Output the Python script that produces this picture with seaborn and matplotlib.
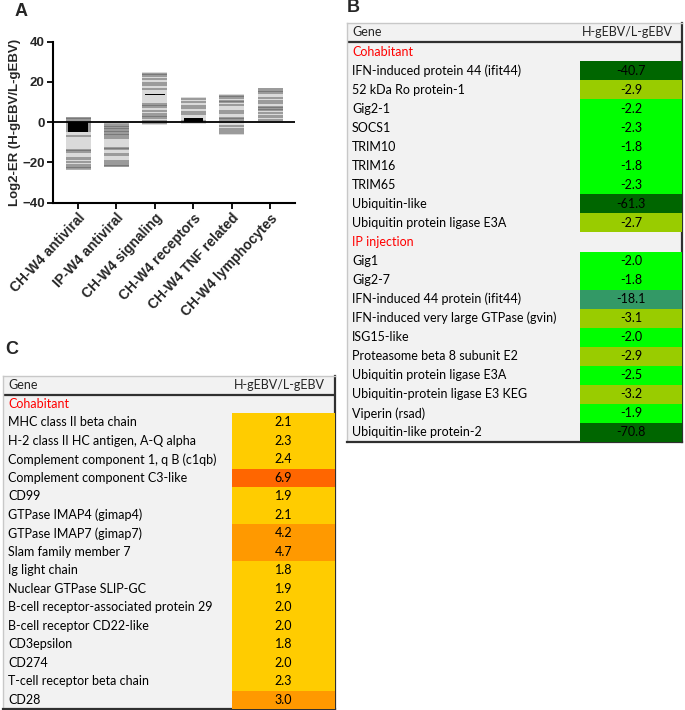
import numpy as np
import seaborn as sns
import matplotlib.pyplot as plt
from matplotlib.colors import ListedColormap, BoundaryNorm

# ---- panel A data (log2 expression ratio per gene, by group) ----
categories = ["CH-W4 antiviral", "IP-W4 antiviral", "CH-W4 signaling",
              "CH-W4 receptors", "CH-W4 TNF related", "CH-W4 lymphocytes"]
gene_log2 = [
    [2.2, 1.4, 0.6, -0.5, -1.5, -2.5, -3.5, -4.5, -7.0, -13.8, -14.6, -18.0, -19.6, -21.2, -22.4, -23.0],
    [-1.0, -1.8, -2.6, -3.4, -4.2, -5.0, -5.8, -6.6, -7.7, -12.8, -13.3, -16.0, -19.3, -20.2, -21.3, -21.9],
    [24.0, 23.2, 21.5, 19.6, 18.6, 16.5, 8.8, 7.8, 5.5, 4.2, 3.2, 2.3, 0.6, -0.4],
    [11.5, 10.0, 8.0, 7.0, 5.0, 4.2, 0.5],
    [13.0, 12.3, 10.7, 10.0, 8.5, 5.6, 4.6, 2.2, 1.3, -1.7, -3.3, -4.2, -5.5],
    [16.4, 15.5, 14.8, 12.1, 10.6, 9.6, 7.6, 6.8, 6.0, 4.4, 2.8, 1.0],
]
range_lo = [-23.5, -22.3, -1.2, -1.0, -6.5, -0.6]
range_hi = [2.8, -0.7, 24.7, 12.6, 13.8, 17.2]
summary_lo = [-5.0, None, 13.4, 0.0, None, None]
summary_hi = [0.0, None, 14.2, 2.0, None, None]

# ---- panel B data ----
b_cohab_genes = ["IFN-induced protein 44 (ifit44)", "52 kDa Ro protein-1", "Gig2-1", "SOCS1",
                 "TRIM10", "TRIM16", "TRIM65", "Ubiquitin-like", "Ubiquitin protein ligase E3A"]
b_cohab_vals = [-40.7, -2.9, -2.2, -2.3, -1.8, -1.8, -2.3, -61.3, -2.7]
b_ip_genes = ["Gig1", "Gig2-7", "IFN-induced 44 protein (ifit44)", "IFN-induced very large GTPase (gvin)",
              "ISG15-like", "Proteasome beta 8 subunit E2", "Ubiquitin protein ligase E3A",
              "Ubiquitin-protein ligase E3 KEG", "Viperin (rsad)", "Ubiquitin-like protein-2"]
b_ip_vals = [-2.0, -1.8, -18.1, -3.1, -2.0, -2.9, -2.5, -3.2, -1.9, -70.8]

# ---- panel C data ----
c_cohab_genes = ["MHC class II beta chain", "H-2 class II HC antigen, A-Q alpha",
                 "Complement component 1, q B (c1qb)", "Complement component C3-like", "CD99",
                 "GTPase IMAP4 (gimap4)", "GTPase IMAP7 (gimap7)", "Slam family member 7",
                 "Ig light chain", "Nuclear GTPase SLIP-GC", "B-cell receptor-associated protein 29",
                 "B-cell receptor CD22-like", "CD3epsilon", "CD274", "T-cell receptor beta chain", "CD28"]
c_cohab_vals = [2.1, 2.3, 2.4, 6.9, 1.9, 2.1, 4.2, 4.7, 1.8, 1.9, 2.0, 2.0, 1.8, 2.0, 2.3, 3.0]

sns.set_style("ticks")
plt.rcParams["font.family"] = ["Liberation Sans", "DejaVu Sans"]

W, H = 685, 710
fig = plt.figure(figsize=(W / 100, H / 100), dpi=100)


def box(l, t, r, b):
    return [l / W, 1 - b / H, (r - l) / W, (b - t) / H]


# ================= panel A =================
ax = fig.add_axes(box(53, 41.7, 295, 202.7))
for i, vals in enumerate(gene_log2):
    ax.bar(i, range_hi[i] - range_lo[i], bottom=range_lo[i], width=0.65, color="#dadada", lw=0)
    v = np.array(vals)
    ax.bar(np.full(len(v), i), np.full(len(v), 1.1), bottom=v - 0.55, width=0.65,
           color="#505050", alpha=0.45, lw=0)
    if summary_lo[i] is not None:
        ax.bar(i, summary_hi[i] - summary_lo[i], bottom=summary_lo[i], width=0.5,
               color="black", lw=0)
ax.axhline(0, color="black", lw=1.3)
ax.set_xlim(-0.65, 5.64)
ax.set_ylim(-40, 40)
ax.set_yticks([-40, -20, 0, 20, 40])
ax.set_xticks(range(len(categories)))
ax.set_xticklabels(categories, rotation=47, ha="right", rotation_mode="anchor",
                   fontweight="bold", fontsize=10)
for lab in ax.get_yticklabels():
    lab.set_fontweight("bold")
    lab.set_fontsize(9.5)
ax.tick_params(width=1.3, length=4, color="black", pad=2)
ax.set_ylabel("Log2-ER (H-gEBV/L-gEBV)", fontweight="bold", fontsize=9.5, labelpad=1)
for s in ["left", "bottom"]:
    ax.spines[s].set_linewidth(1.5)
    ax.spines[s].set_color("black")
sns.despine(ax=ax)

fig.text(15 / W, 1 - 11 / H, "A", fontsize=13, fontweight="bold", va="center")
fig.text(347 / W, 1 - 8 / H, "B", fontsize=13, fontweight="bold", va="center")
fig.text(5 / W, 1 - 349 / H, "C", fontsize=13, fontweight="bold", va="center")


# ================= tables =================
def draw_table(l, t, r, b, head_h, val_l, labels, vals, colors, bounds, red_rows):
    n = len(labels)
    row_h = (b - t - head_h) / n
    bax = fig.add_axes(box(l, t, r, b))
    bax.set_facecolor("#f2f2f2")
    bax.set_xlim(0, r - l)
    bax.set_ylim(b - t, 0)
    bax.set_xticks([])
    bax.set_yticks([])
    for s in ["top", "left"]:
        bax.spines[s].set_color("#c8c8c8")
        bax.spines[s].set_linewidth(1.0)
    for s in ["right", "bottom"]:
        bax.spines[s].set_color("#303030")
        bax.spines[s].set_linewidth(1.6)
    bax.axhline(head_h, color="#303030", lw=1.6)
    fam = ["Lato", "DejaVu Sans"]
    fs = 9.0
    bax.text(5, head_h / 2, "Gene", va="center", ha="left", fontsize=fs, family=fam)
    bax.text((val_l - l + r - l) / 2 - 4, head_h / 2, "H-gEBV/L-gEBV", va="center",
             ha="center", fontsize=fs, family=fam)
    for k, lab in enumerate(labels):
        bax.text(5, head_h + (k + 0.5) * row_h, lab, va="center", ha="left", fontsize=fs,
                 family=fam, color="#ff0000" if k in red_rows else "black")
    hax = fig.add_axes(box(val_l, t + head_h, r, b))
    arr = np.array(vals, dtype=float).reshape(-1, 1)
    cmap = ListedColormap(colors)
    sns.heatmap(arr, ax=hax, cmap=cmap, norm=BoundaryNorm(bounds, cmap.N), cbar=False,
                mask=np.isnan(arr), annot=True, fmt=".1f",
                annot_kws={"color": "black", "fontsize": fs, "family": fam},
                xticklabels=False, yticklabels=False)
    hax.patch.set_alpha(0)
    hax.set_zorder(bax.get_zorder() + 1)


b_labels = ["Cohabitant"] + b_cohab_genes + ["IP injection"] + b_ip_genes
b_values = [np.nan] + b_cohab_vals + [np.nan] + b_ip_vals
draw_table(347, 23, 682, 442, 19, 580, b_labels, b_values,
           ["#006600", "#339966", "#99cc00", "#00ff00"], [-100, -30, -10, -2.6, 0],
           [0, len(b_cohab_genes) + 1])

c_labels = ["Cohabitant"] + c_cohab_genes
c_values = [np.nan] + c_cohab_vals
draw_table(3, 376, 335, 709, 18.5, 232, c_labels, c_values,
           ["#ffcc00", "#ff9900", "#ff6600"], [0, 2.5, 5, 10], [0])

fig.savefig("out.png", dpi=100)
